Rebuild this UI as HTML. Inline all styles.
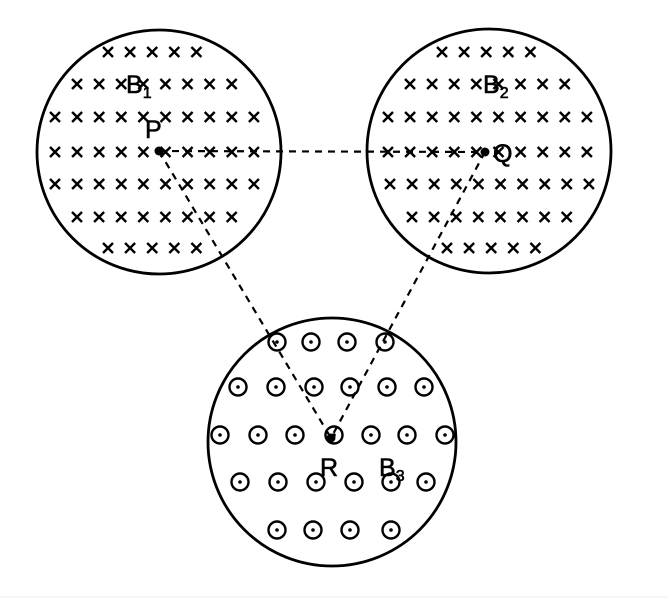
<!DOCTYPE html>
<html><head><meta charset="utf-8"><style>
html,body{margin:0;padding:0;background:#fff;}
svg{display:block;}
text{font-family:"Liberation Sans",sans-serif;fill:#000;stroke:#000;stroke-width:0.6;}
</style></head><body>
<svg id="fig" width="667" height="610" viewBox="0 0 667 610">
<g id="g"></g>
</svg>
<script>
const NS="http://www.w3.org/2000/svg";
const g=document.getElementById('g');
function mk(t,a){const e=document.createElementNS(NS,t);for(const k in a)e.setAttribute(k,a[k]);g.appendChild(e);return e;}
const regions=[{cx:159,cy:152,r:122,n:'region-b1'},{cx:489,cy:151,r:122,n:'region-b2'},{cx:332,cy:442,r:124,n:'region-b3'}];
regions.forEach(c=>{const e=mk('circle',{cx:c.cx,cy:c.cy,r:c.r,fill:'none',stroke:'#000','stroke-width':2.8});

});
const rowsL=[[52,108,5],[84,77,8],[117,55,10],[152,55,10],[184,55,10],[217,77,8],[248,108,5]];
const rowsR=[[52,442,5],[84,410,8],[117,388,10],[152,388,10],[184,390,10],[217,412,8],[248,447,5]];
function crosses(rows){rows.forEach(([y,x0,n])=>{for(let i=0;i<n;i++){const x=x0+i*22.1,s=5;
const p=mk('path',{d:`M${x-s} ${y-s}L${x+s} ${y+s}M${x+s} ${y-s}L${x-s} ${y+s}`,stroke:'#000','stroke-width':2.4});

}});}
crosses(rowsL);crosses(rowsR);
const dotRows=[[342,[277,311,347,385]],[387,[238,276,314,350,387,424]],[435,[220,258,295,334,371,407,445]],[482,[240,278,316,354,391,426]],[530,[277,313,350,391]]];
dotRows.forEach(([y,xs])=>xs.forEach(x=>{const c=mk('circle',{cx:x,cy:y,r:8.5,fill:'none',stroke:'#000','stroke-width':2.4});


mk('circle',{cx:x,cy:y,r:1.8,fill:'#000'});}));
const P=[159,151],Q=[485,152],R=[331,438];
[[P,Q,'line-pq'],[P,R,'line-pr'],[Q,R,'line-qr']].forEach(([a,b,n])=>{const l=mk('line',{x1:a[0],y1:a[1],x2:b[0],y2:b[1],stroke:'#000','stroke-width':2.2,'stroke-dasharray':'7 6'});

});
[P,Q,R].forEach(p=>{const d=mk('circle',{cx:p[0],cy:p[1],r:4.5,fill:'#000'});

});
function lab(x,y,t,sub,n){const e=mk('text',{x:x,y:y,'font-size':25});e.textContent=t;
if(sub){const s=document.createElementNS(NS,'tspan');s.setAttribute('font-size',16);s.setAttribute('dy',5);s.textContent=sub;e.appendChild(s);}

}
lab(126,93,'B','1','label-b1');
lab(145,138,'P','','label-p');
lab(483,93,'B','2','label-b2');
lab(493,162,'Q','','label-q');
lab(320,476,'R','','label-r');
lab(379,476,'B','3','label-b3');
mk('line',{x1:0,y1:597,x2:667,y2:597,stroke:'#eee','stroke-width':1});
</script>
</body></html>
